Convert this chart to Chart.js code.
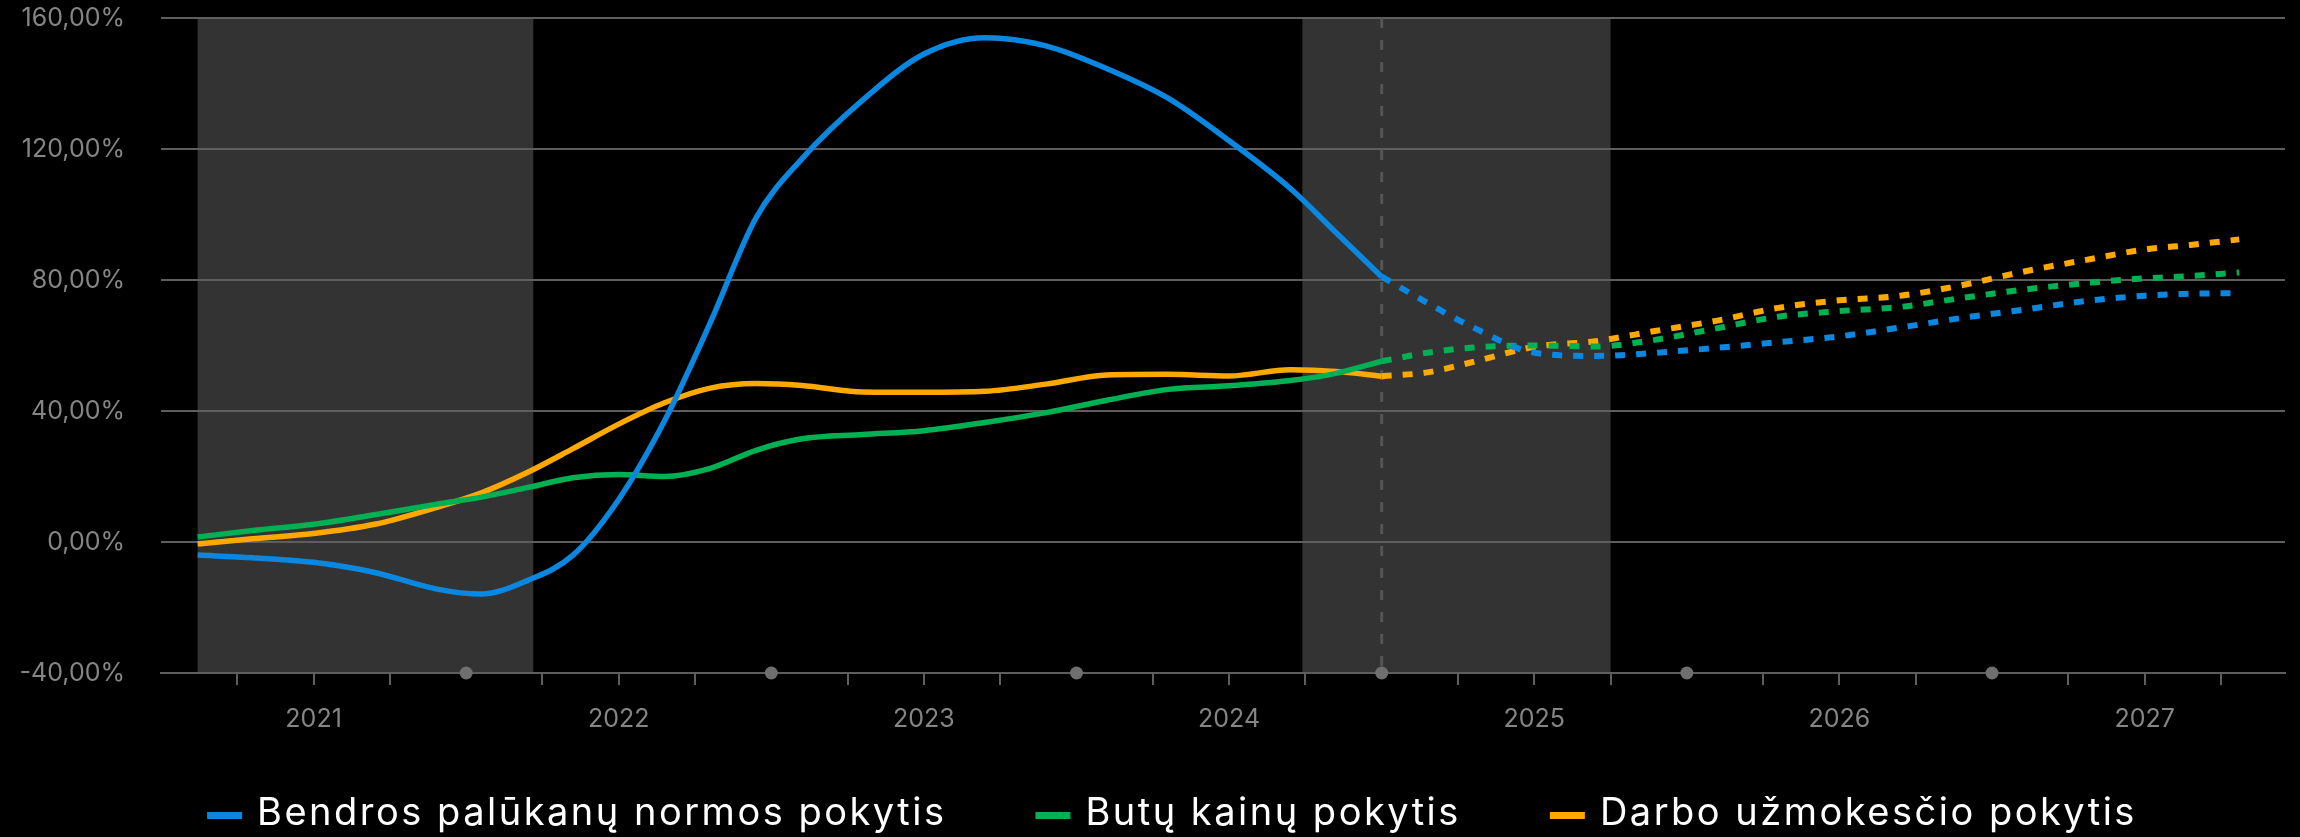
<!DOCTYPE html>
<html>
<head>
<meta charset="utf-8">
<script src="https://cdn.jsdelivr.net/npm/chart.js@4.4.1/dist/chart.umd.min.js"></script>
<style>
  html, body { margin: 0; padding: 0; background: #000; }
  canvas { display: block; }
</style>
</head>
<body>
<canvas id="pokyciai" width="2300" height="837"></canvas>
<script>
// faktiniai duomenys (metai dešimtainiais)
const dates = [2020.62, 2020.8, 2021.0, 2021.2, 2021.4, 2021.55, 2021.7, 2021.85, 2022.0, 2022.15, 2022.3, 2022.45,
    2022.6, 2022.8, 2023.0, 2023.2, 2023.4, 2023.6, 2023.8, 2024.0, 2024.2, 2024.35, 2024.5];
const rate = [-4, -4.8, -6.2, -9.3, -14.3, -15.9, -11.8, -4, 13, 37, 67, 99,
    117, 135, 149, 154, 151.5, 144.5, 135.5, 122.5, 108, 94.5, 81];
const housing = [1.5, 3.5, 5.4, 8.3, 11.5, 13.7, 16.6, 19.6, 20.6, 20, 22.5, 28,
    31.5, 32.8, 34, 36.5, 39.5, 43.3, 46.6, 47.7, 49.3, 51.5, 55.2];
const wages = [-0.6, 1, 2.6, 5.4, 10.5, 15, 21.2, 28.5, 36, 42.5, 47, 48.4,
    47.8, 45.8, 45.7, 46, 48.2, 51, 51.2, 50.7, 52.6, 52.1, 50.6];

// prognozė
const forecastDates = [2024.5, 2024.65, 2024.8, 2025.0, 2025.2, 2025.4, 2025.6, 2025.8,
    2026.0, 2026.2, 2026.4, 2026.6, 2026.8, 2027.0, 2027.15, 2027.31];
const rateForecast = [81, 73, 65.5, 57.8, 56.8, 57.8, 59.3, 61, 62.8, 65.5, 68.4, 70.9, 73.5, 75.2, 75.8, 76];
const housingForecast = [55.2, 57.8, 59.4, 60, 59.7, 61.8, 65.3, 68.8, 70.5, 71.8, 74.5, 77, 79, 80.5, 81.2, 82.3];
const wagesForecast = [50.6, 51.8, 55, 59.6, 61.3, 64.5, 67.6, 71.5, 73.8, 75.2, 78.4, 82.5, 86, 89.3, 90.7, 92.4];

const labels = ['Bendros palūkanų normos pokytis', 'Butų kainų pokytis', 'Darbo užmokesčio pokytis'];
const colors = ['#0a87e0', '#00b154', '#ffa800'];

const tickMarks = [2020.75, 2021, 2021.25, 2021.75, 2022, 2022.25, 2022.75, 2023, 2023.25, 2023.75,
    2024, 2024.25, 2024.75, 2025, 2025.25, 2025.75, 2026, 2026.25, 2026.75, 2027, 2027.25];
const midYearDots = [2021.5, 2022.5, 2023.5, 2024.5, 2025.5, 2026.5];
const shadedPeriods = [[2020.62, 2021.72], [2024.24, 2025.25]];
const forecastStart = 2024.5;

const FONT = 'Inter, "Open Sans", sans-serif';
const GRID = '#5e5e5e';
const TICK_COLOR = '#858585';

function points(xs, ys) {
    return xs.map((x, i) => ({x: x, y: ys[i]}));
}

const facts = [rate, housing, wages];
const forecasts = [rateForecast, housingForecast, wagesForecast];

const datasets = [];
facts.forEach((ys, i) => {
    datasets.push({
        label: labels[i],
        data: points(dates, ys),
        borderColor: colors[i],
        backgroundColor: colors[i],
        borderWidth: 5.5,
        pointRadius: 0,
        cubicInterpolationMode: 'monotone'
    });
});
forecasts.forEach((ys, i) => {
    datasets.push({
        label: labels[i] + ' (prognozė)',
        data: points(forecastDates, ys),
        borderColor: colors[i],
        borderWidth: 6,
        borderDash: [10, 11],
        borderCapStyle: 'butt',
        pointRadius: 0,
        cubicInterpolationMode: 'monotone'
    });
});
datasets.push({
    label: 'taškai',
    data: midYearDots.map(v => ({x: v, y: -40})),
    showLine: false,
    pointRadius: 6.5,
    pointBorderWidth: 0,
    pointBackgroundColor: '#6f6f6f',
    clip: false
});

const backdrop = {
    id: 'backdrop',
    beforeDraw(chart) {
        const {ctx, chartArea: a, scales: {x}} = chart;
        ctx.save();
        ctx.fillStyle = '#000';
        ctx.fillRect(0, 0, chart.width, chart.height);
        ctx.fillStyle = '#333333';
        shadedPeriods.forEach(([from, to]) => {
            const l = x.getPixelForValue(from);
            const r = x.getPixelForValue(to);
            ctx.fillRect(l, a.top, r - l, a.bottom - a.top);
        });
        ctx.restore();
    },
    beforeDatasetsDraw(chart) {
        const {ctx, chartArea: a, scales: {x}} = chart;
        const px = x.getPixelForValue(forecastStart);
        ctx.save();
        ctx.strokeStyle = '#555';
        ctx.lineWidth = 3;
        ctx.setLineDash([10, 12]);
        ctx.beginPath();
        ctx.moveTo(px, a.top);
        ctx.lineTo(px, a.bottom);
        ctx.stroke();
        ctx.restore();
    }
};

// legenda apačioje, vienoje eilutėje
const legendRow = {
    id: 'legendRow',
    afterDraw(chart) {
        const ctx = chart.ctx;
        const boxW = 35, boxH = 7, textGap = 15, itemGap = 89;
        ctx.save();
        ctx.font = '38px ' + FONT;
        ctx.letterSpacing = '2.5px';
        const widths = labels.map(t => ctx.measureText(t).width);
        const total = widths.reduce((s, w) => s + boxW + textGap + w, 0) + itemGap * (labels.length - 1);
        let x = 1172 - total / 2;
        ctx.textBaseline = 'alphabetic';
        labels.forEach((t, i) => {
            ctx.fillStyle = colors[i];
            ctx.fillRect(x, 812, boxW, boxH);
            ctx.fillStyle = '#fff';
            ctx.fillText(t, x + boxW + textGap, 825);
            x += boxW + textGap + widths[i] + itemGap;
        });
        ctx.restore();
    }
};

new Chart(document.getElementById('pokyciai'), {
    type: 'line',
    data: {datasets},
    options: {
        responsive: false,
        animation: false,
        events: [],
        layout: {padding: {top: 18, right: 15, left: 0, bottom: 94}},
        scales: {
            x: {
                type: 'linear',
                min: 2020.5,
                max: 2027.46,
                afterBuildTicks: s => { s.ticks = tickMarks.map(v => ({value: v})); },
                afterFit: s => { s.height = 70; s.paddingLeft = 0; s.paddingRight = 0; },
                grid: {drawOnChartArea: false, drawTicks: true, tickLength: 12, color: GRID, lineWidth: 2},
                border: {display: true, color: GRID, width: 2},
                ticks: {
                    autoSkip: false,
                    maxRotation: 0,
                    padding: 19,
                    color: TICK_COLOR,
                    font: {family: FONT, size: 25},
                    callback: v => Number.isInteger(v) ? String(v) : ''
                }
            },
            y: {
                min: -40,
                max: 160,
                afterFit: s => { s.width = 161; s.paddingTop = 0; s.paddingBottom = 0; },
                grid: {color: GRID, lineWidth: 2, drawTicks: false},
                border: {display: false},
                ticks: {
                    stepSize: 40,
                    padding: 36,
                    color: TICK_COLOR,
                    font: {family: FONT, size: 25},
                    callback: v => v.toFixed(2).replace('.', ',') + '%'
                }
            }
        },
        plugins: {
            tooltip: {enabled: false},
            legend: {display: false}
        }
    },
    plugins: [backdrop, legendRow]
});
</script>
</body>
</html>
